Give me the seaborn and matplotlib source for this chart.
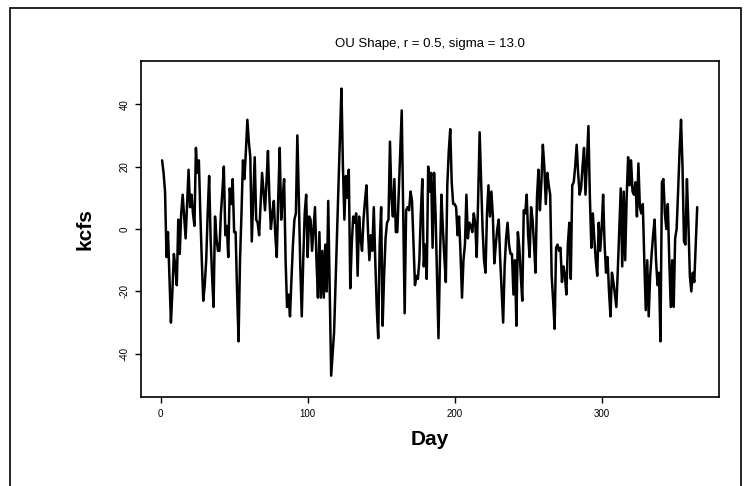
import numpy as np
import pandas as pd
import matplotlib
matplotlib.use("Agg")
import matplotlib.pyplot as plt
import seaborn as sns

# daily flow anomaly (kcfs), days 1..365
flow = [
    22, 18, 12, -9, -1, -15, -30, -20, -8, -12,
    -18, 3, -8, 5, 11, 4, -3, 8, 19, 7,
    11, 5, 1, 26, 18, 22, 5, -10, -23, -18,
    -10, 5, 17, -3, -15, -25, 4, -3, -7, -7,
    5, 12, 20, -2, 1, -9, 13, 8, 16, -1,
    -1, -20, -36, -10, 5, 22, 16, 25, 35, 28,
    23, -4, 10, 23, 3, 2, -2, 8, 18, 12,
    6, 15, 25, 10, 0, 5, 9, -2, -9, 10,
    26, 3, 10, 16, -10, -25, -21, -28, -16, -5,
    3, 5, 30, 10, -12, -28, -10, 5, 11, -9,
    4, 3, -7, 0, 7, -10, -22, -1, -22, -7,
    -22, -5, -20, 9, -20, -47, -40, -33, -17, -1,
    14, 30, 45, 20, 3, 17, 10, 19, -19, -5,
    4, 2, 5, -15, 4, -3, -7, 3, 9, 14,
    0, -10, -2, -7, 7, -10, -25, -35, -5, 7,
    -31, -15, -3, 2, 3, 28, 10, 4, 16, -1,
    -1, 12, 25, 38, 5, -27, 6, 7, 6, 12,
    9, -5, -18, -15, -16, -10, 5, 16, -12, -5,
    -16, 20, 12, 18, -6, 18, 5, -15, -35, -10,
    11, 0, -9, -17, 14, 25, 32, 15, 8, 8,
    7, -2, 4, -8, -22, -10, -5, 11, -3, 2,
    1, -1, 5, 2, -9, 10, 31, 15, 0, -10,
    -14, 5, 14, 4, 12, 4, -11, -5, 0, 3,
    -10, -20, -30, -12, -3, 2, -5, -8, -8, -21,
    -10, -31, -1, -6, -15, -23, 6, 5, 11, -2,
    -9, 7, 3, -5, -14, 10, 19, 6, 15, 27,
    20, 8, 18, 14, 11, -15, -23, -32, -6, -5,
    -7, -6, -17, -12, -15, -21, -5, 2, -16, 14,
    15, 20, 27, 18, 11, 13, 20, 26, 11, 22,
    33, 10, -6, 5, -3, -10, -15, 2, -7, 0,
    11, -5, -14, -9, -20, -28, -14, -17, -21, -25,
    -13, 0, 13, -12, 12, -10, 10, 23, 14, 22,
    12, 11, 15, 4, 21, 7, 5, 8, -10, -26,
    -10, -28, -15, -8, -2, 3, -10, -18, -14, -36,
    15, 16, 5, 0, 8, -10, -25, -10, -25, -3,
    0, 12, 25, 35, 20, -4, -5, 16, 2, -15,
    -20, -14, -17, -5, 7,
]
days = list(range(1, len(flow) + 1))

x_ticks = [0, 100, 200, 300]
y_ticks = [-40, -20, 0, 20, 40]
title = "OU Shape, r = 0.5, sigma = 13.0"

sns.set_style("ticks")
plt.rcParams['font.family'] = ['Liberation Sans', 'DejaVu Sans']
plt.rcParams['text.color'] = 'black'
plt.rcParams['axes.labelcolor'] = 'black'

df = pd.DataFrame({'Day': days, 'kcfs': flow})

fig = plt.figure(figsize=(7.52, 4.86), dpi=100)
ax = fig.add_axes([0.1871, 0.1821, 0.7685, 0.6934])

sns.lineplot(data=df, x='Day', y='kcfs', color='black', linewidth=1.8, ax=ax)

# R style axis padding (4%)
span = days[-1] - days[0]
ax.set_xlim(days[0] - 0.04 * span, days[-1] + 0.04 * span)
ax.set_ylim(-54, 54)

ax.set_xticks(x_ticks)
ax.set_yticks(y_ticks)
ax.set_xticklabels([str(t) for t in x_ticks], fontsize=7)
ax.set_yticklabels([str(t) for t in y_ticks], fontsize=7, rotation=90, va='center')
ax.tick_params(direction='out', length=4, width=1, colors='black', labelcolor='black', pad=4)

for s in ax.spines.values():
    s.set_visible(True)
    s.set_color('black')
    s.set_linewidth(1.2)

ax.set_xlabel('Day', fontsize=15, fontweight='bold', labelpad=8, color='black')
ax.set_ylabel('kcfs', fontsize=15, fontweight='bold', labelpad=18, color='black')
ax.set_title(title, fontsize=9.5, pad=10, color='black')

# outer frame around the whole figure
frame = plt.Rectangle((10 / 752, -0.01), (741 - 10) / 752, (478 - 0) / 486 + 0.01,
                      transform=fig.transFigure, fill=False, edgecolor='black', linewidth=1.2)
fig.patches.append(frame)

fig.savefig('out.png', dpi=100)
plt.close(fig)
